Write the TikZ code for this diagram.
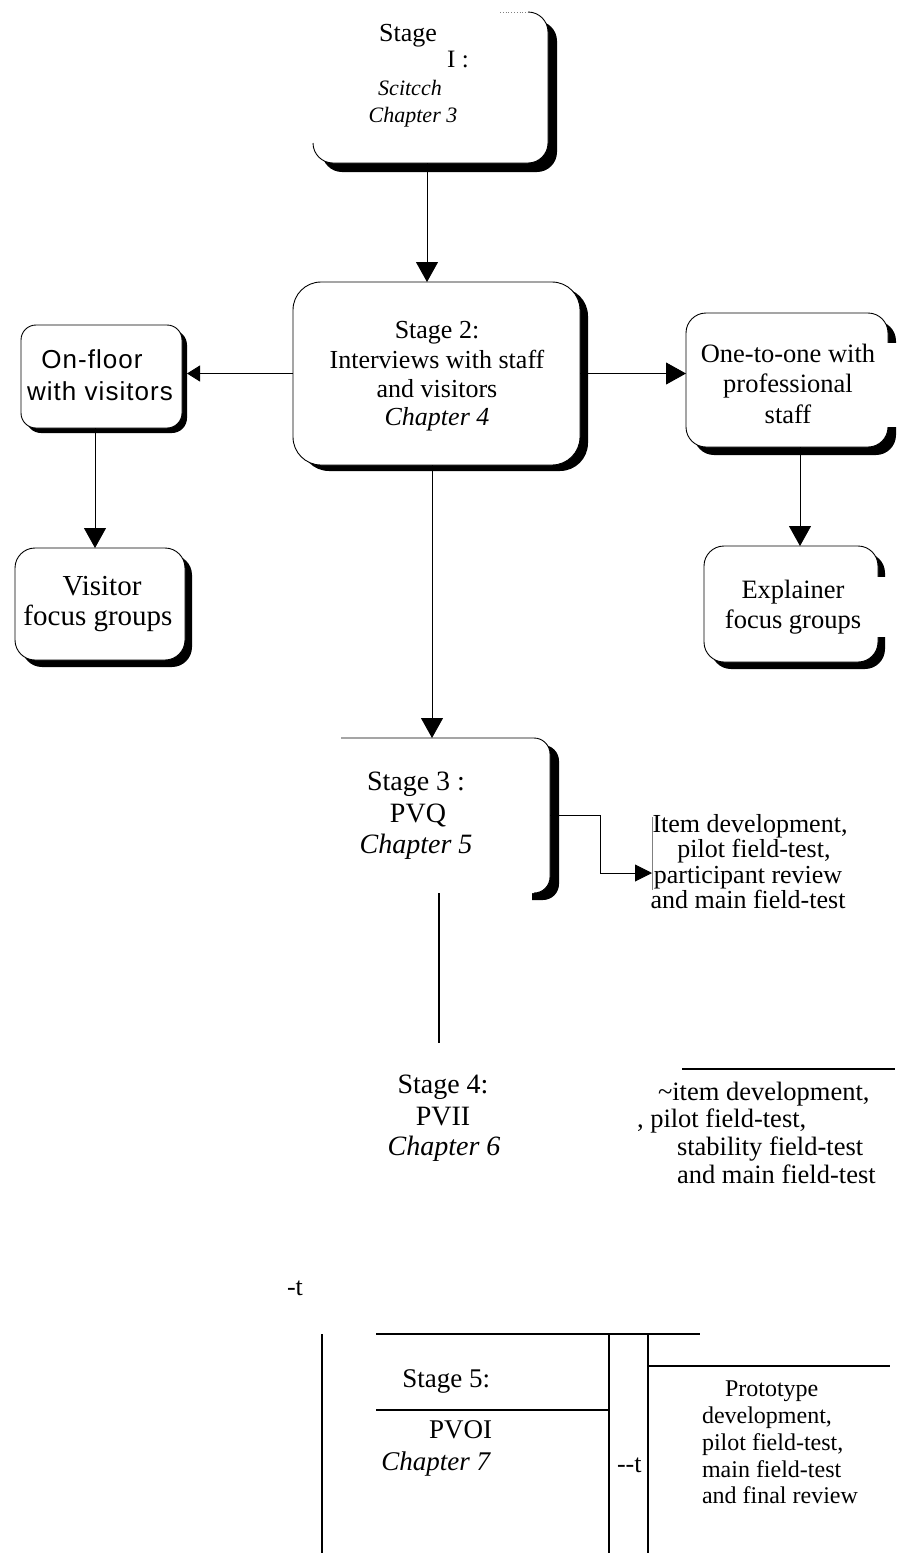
\documentclass[tikz,border=0pt]{standalone}
\usepackage{fontspec}
\setmainfont{Liberation Serif}
\newfontfamily\sansf[LetterSpace=4]{Liberation Sans}
\usetikzlibrary{arrows.meta,shadows,calc}
\newcommand\fsz[1]{\fontsize{#1}{#1}\selectfont}
\newcommand\fszi[1]{\fontsize{#1}{#1}\selectfont\itshape}
\begin{document}
\begin{tikzpicture}[x=1pt,y=-1pt,
  box/.style={rectangle, rounded corners=#1, fill=white, inner sep=0pt, outer sep=0pt},
  sh/.style 2 args={drop shadow={shadow xshift=#1,shadow yshift=-#2,fill=black,opacity=1}},
  outl/.style={line width=0.9pt},
  t/.style={anchor=base, inner sep=0pt, outer sep=0pt},
  tw/.style={anchor=base west, inner sep=0pt, outer sep=0pt},
  te/.style={anchor=base east, inner sep=0pt, outer sep=0pt},
  arr/.style={line width=0.9pt, -{Triangle[length=20pt,width=22pt]}},
  arrs/.style={line width=0.9pt, -{Triangle[length=13pt,width=16pt]}},
  arrm/.style={line width=0.9pt, -{Triangle[length=17pt,width=17pt]}},
  rule/.style={line width=1.2pt}]
\useasboundingbox (0,0) rectangle (902,1553);
\fill[white] (0,0) rectangle (902,1553);

% ---------- boxes ----------
\node[box=20pt, sh={9pt}{9pt}, minimum width=235pt, minimum height=151pt] (st1) at (430.5,87.5) {};
\node[box=28pt, draw, outl, sh={8pt}{6pt}, minimum width=287pt, minimum height=183pt] (st2) at (436.5,373.5) {};
\node[box=15pt, draw, outl, sh={5pt}{5pt}, minimum width=161pt, minimum height=103pt] (onf) at (101.5,376.5) {};
\node[box=20pt, draw, outl, sh={7pt}{7pt}, minimum width=170pt, minimum height=112pt] (vis) at (100,604) {};
\node[box=20pt, draw, outl, sh={8pt}{8pt}, minimum width=202pt, minimum height=134pt] (one) at (787,380) {};
\node[box=20pt, draw, outl, sh={7pt}{7pt}, minimum width=174pt, minimum height=116pt] (exp) at (791,604) {};
\node[box=16pt, sh={9pt}{7pt}, minimum width=209pt, minimum height=155pt] (st3) at (445.5,815.5) {};

% broken parts of the scan
\fill[white] (884,343) rectangle (902,427);
\fill[white] (874,577) rectangle (890,637);
\fill[white] (335,891) rectangle (532,906);

% partial outlines
\draw[gray, dotted, line width=0.8pt] ([xshift=-48pt]st1.north east) -- ([xshift=-22pt]st1.north east);
\draw[outl, rounded corners=20pt] ([xshift=-20pt]st1.north east) -- (st1.north east) -- (st1.south east) -- (st1.south west) -- ([yshift=20pt]st1.south west);
\draw[outl, rounded corners=16pt] (st3.north west) -- (st3.north east) -- (st3.south east) -- ([xshift=-16pt]st3.south east);

% ---------- texts ----------
\node[t, font=\fsz{26}] (s1a) at (408,41) {Stage};
\node[t, font=\fsz{25}] (s1b) at (458,67) {I :};
\node[t, font=\fszi{22}] (s1c) at (410,95) {Scitcch};
\node[t, font=\fszi{22}] (s1d) at (413,122) {Chapter 3};

\node[t, font=\fsz{26}] (s2a) at (437,338) {Stage 2:};
\node[t, font=\fsz{26}] (s2b) at (437,368) {Interviews with staff};
\node[t, font=\fsz{26}] (s2c) at (437,397) {and visitors};
\node[t, font=\fszi{26}] (s2d) at (437,425) {Chapter 4};

\node[t, font=\sansf\fsz{26}] (ofa) at (92,368) {On-floor};
\node[t, font=\sansf\fsz{26}] (ofb) at (100,400) {with visitors};

\node[t, font=\fsz{29}] (vfa) at (102,595) {Visitor};
\node[t, font=\fsz{29}] (vfb) at (98,625) {focus groups};

\node[t, font=\fsz{26.5}] (opa) at (788,362) {One-to-one with};
\node[t, font=\fsz{26.5}] (opb) at (788,392) {professional};
\node[t, font=\fsz{26.5}] (opc) at (788,423) {staff};

\node[t, font=\fsz{26.5}] (efa) at (793,598) {Explainer};
\node[t, font=\fsz{26.5}] (efb) at (793,628) {focus groups};

\node[t, font=\fsz{28}] (s3a) at (416,790) {Stage 3 :};
\node[t, font=\fsz{28}] (s3b) at (418,822) {PVQ};
\node[t, font=\fszi{28}] (s3c) at (416,853) {Chapter 5};

\node[t, font=\fsz{26}] (i3a) at (750,832) {Item development,};
\node[t, font=\fsz{26}] (i3b) at (754,857) {pilot field-test,};
\node[t, font=\fsz{26}] (i3c) at (748,883) {participant review};
\node[t, font=\fsz{26}] (i3d) at (748,908) {and main field-test};

\node[t, font=\fsz{28}] (s4a) at (443,1093) {Stage 4:};
\node[t, font=\fsz{28}] (s4b) at (443,1125) {PVII};
\node[t, font=\fszi{28}] (s4c) at (444,1155) {Chapter 6};

\node[tw, font=\fsz{26.5}] (i4a) at (658,1100) {\textasciitilde item development,};
\node[tw, font=\fsz{26.5}] (i4b) at (637,1127) {, pilot field-test,};
\node[tw, font=\fsz{26.5}] (i4c) at (677,1155) {stability field-test};
\node[tw, font=\fsz{26.5}] (i4d) at (677,1183) {and main field-test};

\node[t, font=\fsz{26}] (mt) at (295,1295) {-t};

\node[te, font=\fsz{27}] (s5a) at (490,1387) {Stage 5:};
\node[te, font=\fsz{27}] (s5b) at (492,1438) {PVOI};
\node[te, font=\fszi{27}] (s5c) at (490,1470) {Chapter 7};
\node[tw, font=\fsz{26}] (dt) at (617,1472) {{-}{-}t};

\node[tw, font=\fsz{24}] (p5a) at (725,1396) {Prototype};
\node[tw, font=\fsz{24}] (p5b) at (702,1423) {development,};
\node[tw, font=\fsz{24}] (p5c) at (702,1450) {pilot field-test,};
\node[tw, font=\fsz{24}] (p5d) at (702,1477) {main field-test};
\node[tw, font=\fsz{24}] (p5e) at (702,1503) {and final review};

% ---------- connectors ----------
\coordinate (a1) at ([xshift=-3.5pt]st1.south);
\draw[arr] (a1) -- (a1 |- st2.north);
\coordinate (a2) at ([xshift=-4.5pt]st2.south);
\draw[arr] (a2) -- (a2 |- st3.north);
\draw[arrs] (st2.west) -- ($(st2.west -| onf.east)+(5,0)$);
\draw[arr] (st2.east) -- (st2.east -| one.west);
\coordinate (a3) at ([xshift=-6.5pt]onf.south);
\draw[arr] (a3) -- (a3 |- vis.north);
\coordinate (a4) at ([xshift=13pt]one.south);
\draw[arr] (a4) -- (a4 |- exp.north);
\coordinate (st3bend) at (600,873);
\coordinate (it3) at (652,873);
\draw[arrm] (st3.east) -| (st3bend) -- (it3);
\draw[gray, line width=0.5pt] ($(it3)+(0,-56)$) -- ($(it3)+(0,17)$);
\coordinate (l3a) at (439,893);
\coordinate (l3b) at (439,1043);
\draw[rule] (l3a) -- (l3b);

% ---------- plain rules ----------
\draw[rule] (682,1069) -- (895,1069);
\draw[rule] (322,1334) -- (322,1553);
\draw[rule] (376,1334) -- (700,1334);
\draw[rule] (609,1334) -- (609,1553);
\draw[rule] (648,1334) -- (648,1553);
\draw[rule] (648,1366) -- (890,1366);
\draw[rule] (376,1410) -- (609,1410);
\end{tikzpicture}
\end{document}
